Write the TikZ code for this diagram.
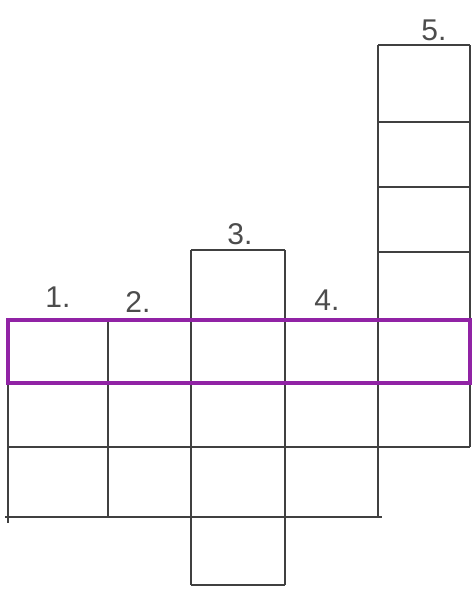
\documentclass[tikz,border=0pt]{standalone}
\usepackage{fontspec}
\setmainfont{Liberation Sans}
\begin{document}
\begin{tikzpicture}[x=1pt,y=-1pt,
  gridline/.style={draw=black!75,line width=1.6pt},
  rowmark/.style={draw={rgb,255:red,145;green,35;blue,165},line width=3.2pt},
  numlabel/.style={font=\fontsize{30}{32}\selectfont,text=black!70,inner sep=0pt}]
\useasboundingbox (0,0) rectangle (472,590);
% vertical lines
\draw[gridline] (8,320) -- (8,523);
\draw[gridline] (108,320) -- (108,517);
\draw[gridline] (191,250) -- (191,585);
\draw[gridline] (285,250) -- (285,585);
\draw[gridline] (378,45) -- (378,517);
\draw[gridline] (470,45) -- (470,447);
% horizontal lines
\draw[gridline] (378,45) -- (470,45);
\draw[gridline] (378,122) -- (470,122);
\draw[gridline] (378,187) -- (470,187);
\draw[gridline] (378,252) -- (470,252);
\draw[gridline] (191,250) -- (285,250);
\draw[gridline] (8,447) -- (470,447);
\draw[gridline] (5,517) -- (382,517);
\draw[gridline] (191,585) -- (285,585);
% highlighted row
\draw[rowmark] (8,320) rectangle (470,383);
% labels
\node[numlabel] (n1) at (58,297) {1.};
\node[numlabel] (n2) at (138,302) {2.};
\node[numlabel] (n3) at (240,234) {3.};
\node[numlabel] (n4) at (327,300) {4.};
\node[numlabel] (n5) at (434,30) {5.};
\end{tikzpicture}
\end{document}
